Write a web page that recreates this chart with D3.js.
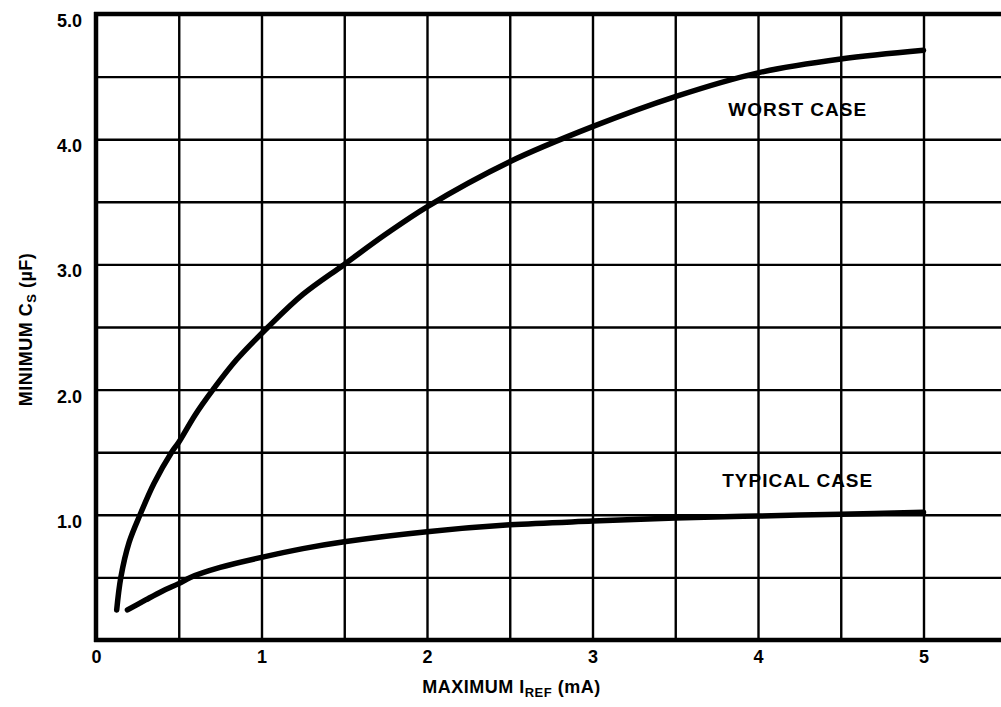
<!DOCTYPE html>
<html>
<head>
<meta charset="utf-8">
<script src="https://cdn.jsdelivr.net/npm/d3@7"></script>
<style>
    body { margin: 0; background: #fff; }
    text { font-family: "Liberation Sans", Arial, Helvetica, sans-serif; font-weight: bold; fill: #000; }
</style>
</head>
<body>
<div id="chart-area"></div>
<script>
// Curve values (I in mA, C in uF)
var worstI = [0.125, 0.15, 0.2, 0.266, 0.35, 0.457, 0.5, 0.6, 0.707, 0.85, 1.04, 1.25, 1.5, 1.75, 2, 2.5, 3, 3.5, 4, 4.5, 5];
var worstC = [0.24, 0.5, 0.78, 1.0, 1.25, 1.5, 1.58, 1.8, 2.0, 2.24, 2.5, 2.76, 3.0, 3.24, 3.46, 3.82, 4.1, 4.34, 4.53, 4.64, 4.71];

var typI = [0.19, 0.3, 0.4, 0.5, 0.57, 0.75, 1, 1.25, 1.5, 2, 2.5, 3, 3.5, 4, 4.5, 5];
var typC = [0.24, 0.32, 0.39, 0.45, 0.5, 0.58, 0.66, 0.73, 0.785, 0.865, 0.92, 0.95, 0.975, 0.99, 1.005, 1.02];

var xTicks = [0, 1, 2, 3, 4, 5];
var yTicks = [1, 2, 3, 4, 5];
var xGrid = d3.range(0, 5.51, 0.5);
var yGrid = d3.range(0, 5.01, 0.5);

var margin = { left: 96, right: 0, top: 14, bottom: 67 };
var width = 1001 - margin.left,
    height = 707 - margin.top - margin.bottom;

var svg = d3.select("#chart-area")
    .append("svg")
        .attr("width", 1001)
        .attr("height", 707);

var g = svg.append("g")
    .attr("transform", "translate(" + margin.left + ", " + margin.top + ")");

// scales: 165.5 px per mA, plot runs past the right edge to 5.5
var x = d3.scaleLinear()
    .domain([0, 5.5])
    .range([0, 5.5 * 165.5]);

var y = d3.scaleLinear()
    .domain([0, 5])
    .range([height, 0]);

// Grid
g.append("g")
    .attr("class", "x grid")
    .attr("transform", "translate(0," + height + ")")
    .call(d3.axisBottom(x).tickValues(xGrid).tickSize(-height).tickFormat(""))
    .call(function(s){
        s.select(".domain").remove();
        s.selectAll("line").attr("stroke", "#000").attr("stroke-width", 2.4);
    });

g.append("g")
    .attr("class", "y grid")
    .call(d3.axisLeft(y).tickValues(yGrid).tickSize(-x(5.5)).tickFormat(""))
    .call(function(s){
        s.select(".domain").remove();
        s.selectAll("line").attr("stroke", "#000").attr("stroke-width", 2.4);
    });

// Frame: left, bottom, top heavy lines
g.append("line").attr("x1", 0).attr("x2", 0).attr("y1", -2).attr("y2", height + 2)
    .attr("stroke", "#000").attr("stroke-width", 4.5);
g.append("line").attr("x1", -2).attr("x2", x(5.5)).attr("y1", height).attr("y2", height)
    .attr("stroke", "#000").attr("stroke-width", 4.5);
g.append("line").attr("x1", -2).attr("x2", x(5.5)).attr("y1", 0).attr("y2", 0)
    .attr("stroke", "#000").attr("stroke-width", 4.5);

// X tick labels
var xAxisCall = d3.axisBottom(x).tickValues(xTicks).tickSize(0).tickPadding(10)
    .tickFormat(d3.format("d"));
g.append("g")
    .attr("class", "x axis")
    .attr("transform", "translate(0," + height + ")")
    .call(xAxisCall)
    .call(function(s){
        s.select(".domain").remove();
        s.selectAll("text").attr("font-size", "18px")
            .attr("font-family", "Liberation Sans, Arial, sans-serif").attr("font-weight", "bold");
    });

// Y tick labels (sit just under their grid line)
g.selectAll(".ylab")
    .data(yTicks)
    .enter()
    .append("text")
        .attr("class", "ylab")
        .attr("x", -14)
        .attr("y", function(d){ return y(d) + 13; })
        .attr("text-anchor", "end")
        .attr("font-size", "18px")
        .text(function(d){ return d3.format(".1f")(d); });

// Curves
var line = d3.line()
    .x(function(d){ return x(d[0]); })
    .y(function(d){ return y(d[1]); })
    .curve(d3.curveCatmullRom.alpha(0.5));

var worst = worstI.map(function(v, i){ return [v, worstC[i]]; });
var typical = typI.map(function(v, i){ return [v, typC[i]]; });

[worst, typical].forEach(function(data){
    g.append("path")
        .datum(data)
        .attr("fill", "none")
        .attr("stroke", "#000")
        .attr("stroke-width", 5.5)
        .attr("stroke-linecap", "round")
        .attr("stroke-linejoin", "round")
        .attr("d", line);
});

// Curve labels
g.append("text")
    .attr("x", x(4.24))
    .attr("y", y(4.185))
    .attr("text-anchor", "middle")
    .attr("font-size", "19px")
    .attr("letter-spacing", "1px")
    .text("WORST CASE");

g.append("text")
    .attr("x", x(4.24))
    .attr("y", y(1.222))
    .attr("text-anchor", "middle")
    .attr("font-size", "19px")
    .attr("letter-spacing", "1px")
    .text("TYPICAL CASE");

// X Label
var xLabel = g.append("text")
    .attr("x", x(2.51))
    .attr("y", height + 53)
    .attr("text-anchor", "middle")
    .attr("font-size", "18px")
    .attr("letter-spacing", "0.5px");
xLabel.append("tspan").text("MAXIMUM I");
xLabel.append("tspan").attr("font-size", "13px").attr("dy", 4).text("REF");
xLabel.append("tspan").attr("dy", -4).text(" (mA)");

// Y Label
var yLabel = g.append("text")
    .attr("transform", "translate(" + (-64) + "," + y(2.48) + ") rotate(-90)")
    .attr("text-anchor", "middle")
    .attr("font-size", "18px")
    .attr("letter-spacing", "0.5px");
yLabel.append("tspan").text("MINIMUM C");
yLabel.append("tspan").attr("font-size", "13px").attr("dy", 4).text("S");
yLabel.append("tspan").attr("dy", -4).text(" (\u00b5F)");
</script>
</body>
</html>
